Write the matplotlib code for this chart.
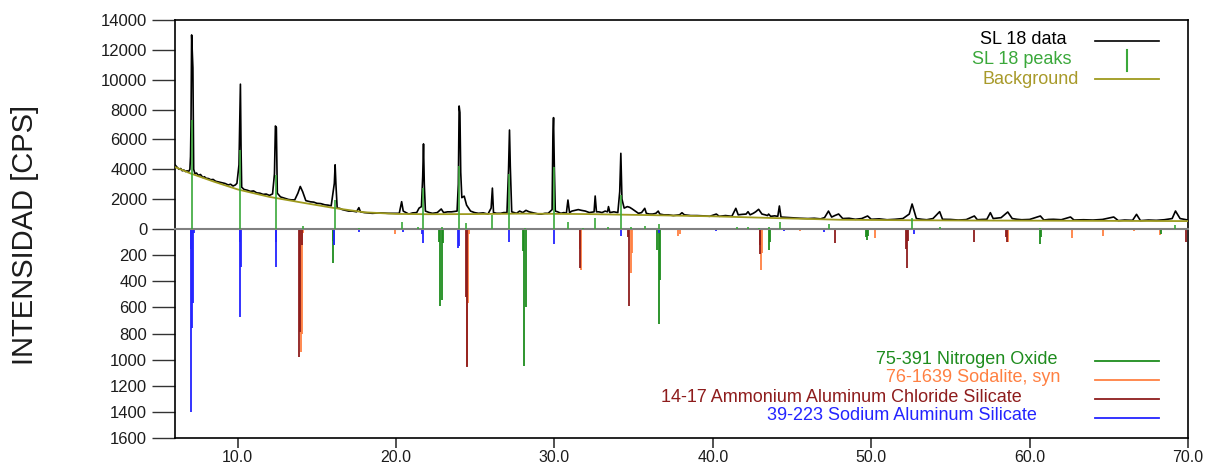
import matplotlib
matplotlib.use("Agg")
import matplotlib.pyplot as plt

plt.rcParams['font.family'] = ['Liberation Sans', 'DejaVu Sans']

# ---------------- data ----------------
# measured pattern "SL 18 data" (2theta, counts)
data_x = [6.04, 6.2, 6.3, 6.4, 6.5, 6.6, 6.7, 6.8, 6.9, 6.98, 7.02, 7.05, 7.09, 7.13, 7.17, 7.22, 7.3,
          7.4, 7.5, 7.65, 7.8, 7.9, 8.0, 8.15, 8.3, 8.45, 8.6, 8.8, 9.0, 9.2, 9.4, 9.55, 9.7, 9.85,
          9.95, 10.08, 10.12, 10.17, 10.21, 10.25, 10.4, 10.6, 10.8, 11.0,
          11.2, 11.4, 11.6, 11.8, 12.0, 12.2, 12.32, 12.38, 12.44, 12.5, 12.7, 12.85, 13.0, 13.2,
          13.4, 13.6, 13.8, 13.95, 14.1, 14.3, 14.6, 14.8, 15.0, 15.25, 15.5, 15.7, 15.9, 16.1,
          16.15, 16.2, 16.28, 16.45, 16.6, 16.8, 17.0, 17.25,
          17.5, 17.65, 17.75, 18.0, 18.5, 19.0, 19.5, 20.2, 20.35, 20.45, 20.8, 21.05, 21.3, 21.45,
          21.6, 21.68, 21.73, 21.78, 21.85, 22.1, 22.3, 22.6, 22.85, 23.0, 23.25, 23.5, 23.85,
          23.93, 23.98, 24.03, 24.08, 24.15, 24.3, 24.45, 24.7, 24.95, 25.2, 25.5, 25.8, 26.0,
          26.08, 26.15, 26.35, 26.6, 26.8, 27.0, 27.1, 27.16,
          27.21, 27.3, 27.6, 27.8, 28.0, 28.2, 28.4, 28.6, 28.8, 29.0, 29.2, 29.4, 29.6, 29.85,
          29.9, 29.94, 29.99, 30.05, 30.2, 30.4, 30.6, 30.75, 30.85, 30.95, 31.1, 31.3, 31.5,
          31.7, 31.95, 32.2, 32.5, 32.57, 32.65, 32.8, 33.0, 33.2, 33.35, 33.41,
          33.5, 33.75, 34.0, 34.12, 34.19, 34.26, 34.4, 34.6, 34.75, 34.9, 35.1, 35.3, 35.5,
          35.7, 35.8, 36.0, 36.2, 36.4, 36.55,
          36.65, 36.9, 37.2, 37.5, 37.9, 38.05, 38.2, 38.6, 39.0, 39.4, 39.8, 40.22, 40.4, 40.8,
          41.2, 41.45, 41.6, 41.85, 42.1,
          42.22, 42.35, 42.55, 42.7, 42.89, 43.1, 43.3, 43.45, 43.52, 43.65, 43.9, 44.1, 44.2,
          44.3, 44.6, 45.0, 45.5, 46.0, 46.4,
          46.8, 47.05, 47.3, 47.5, 47.7, 47.94, 48.2, 48.6, 49.0, 49.4, 49.77, 50.0, 50.5, 51.0,
          51.5, 52.0, 52.4, 52.58, 52.7,
          52.85, 53.2, 53.5, 53.9, 54.32, 54.5, 55.0, 55.5, 56.0, 56.51, 56.7, 57.0, 57.3, 57.52,
          57.7, 58.2, 58.62, 58.9, 59.2, 59.5, 60.0,
          60.68, 60.9, 61.2, 61.5, 62.0, 62.58, 62.8, 63.4, 64.0, 64.6, 65.31, 65.6, 66.0, 66.5,
          66.75, 67.0, 67.5, 68.0, 68.5, 69.0, 69.21, 69.5, 70.0]
data_y = [4300, 4100, 4000, 4050, 3900, 3950, 3850, 3900, 3850, 4000, 4850, 7000, 13000, 11900,
          10800, 4000, 3700, 3750, 3600, 3650, 3450, 3500, 3400, 3380, 3300, 3320, 3200, 3150,
          3100, 3050, 2950, 3000, 2880, 2950,
          3060, 4300, 6760, 9700, 5400, 2800, 2650, 2600, 2520, 2550,
          2420, 2400, 2320, 2340, 2250, 2350, 3700, 6900, 6800, 2400, 2150, 2100, 2050, 1980,
          1950, 1950, 2400, 2850, 2500, 1900, 1820, 1800, 1720, 1700, 1620, 1600, 1550, 3060,
          4300, 3000, 1400, 1380, 1300, 1250, 1200, 1200,
          1150, 1430, 1150, 1100, 1050, 1080, 1050, 1050, 1830, 1200, 1000, 1080, 1100, 1400,
          1500, 3500, 5700, 3000, 1200, 1100, 1050, 1100, 1340, 1100, 1150, 1150, 1200,
          3000, 8240, 7800, 3800, 2100, 2200, 1600, 1200, 1100, 1050, 1080, 1000, 1400,
          2740, 1100, 1050, 1050, 1100, 1100, 4000, 6630,
          4200, 1150, 1050, 1200, 1100, 1250, 1150, 1100, 1050, 1000, 1000, 1050, 1050, 1300,
          6200, 7460, 4200, 1200, 1150, 1050, 1100, 1050, 1940, 1100, 1200, 1250, 1300,
          1250, 1200, 1100, 1150, 2210, 1150, 1150, 1100, 1200, 1150, 1500,
          1100, 1150, 1100, 2500, 5070, 2000, 1400, 1500, 1450, 1350, 1200, 1050, 1100,
          1385, 1050, 1000, 1000, 1050, 1200,
          1000, 950, 950, 900, 950, 1090, 950, 900, 900, 880, 850, 1000, 850, 900,
          850, 1385, 950, 980, 1000,
          1160, 950, 1050, 1150, 1318, 1000, 950, 900, 1000, 850, 880, 850, 1541,
          800, 780, 750, 720, 700, 720,
          680, 760, 1200, 800, 900, 1005, 700, 720, 650, 700, 871, 650, 680, 620,
          650, 700, 1000, 1675, 1250,
          700, 650, 620, 700, 1162, 650, 640, 600, 630, 871, 620, 640, 650, 1094,
          700, 760, 1139, 700, 650, 620, 640,
          871, 600, 640, 650, 620, 804, 600, 620, 600, 640, 804, 560, 600, 580,
          983, 560, 600, 580, 620, 700, 1206, 700, 600]

# fitted background
bg_x = [6.04, 7.0, 8.5, 10.0, 12.0, 14.0, 16.0, 18.0, 20.0, 22.0, 25.0, 28.0, 32.0, 36.0,
        40.0, 44.0, 48.0, 52.0, 56.0, 60.0, 65.0, 70.0]
bg_y = [4150, 3730, 3170, 2650, 2150, 1780, 1420, 1120, 1010, 990, 1000, 1030, 1000, 930,
        850, 730, 620, 590, 570, 560, 545, 530]

# "SL 18 peaks" sticks
peak_x = [7.09, 10.17, 12.42, 14.1, 16.15, 17.68, 20.4, 21.37, 21.73, 22.9, 24.0, 24.42,
          26.08, 27.16, 28.15, 29.94, 30.85, 31.79, 32.57, 33.41, 34.19, 34.85, 35.73,
          36.57, 41.52, 42.22, 42.89, 43.52, 44.21, 47.31, 52.58, 54.32, 60.68, 69.21]
peak_h = [7300, 5300, 3600, 200, 1950, 100, 490, 150, 2750, 130, 4220, 400,
          940, 3700, 70, 4130, 490, 60, 715, 150, 2280, 150, 220,
          310, 150, 120, 80, 120, 490, 310, 715, 120, 100, 300]

# reference patterns (drawn downward)
no_x = [16.0, 16.04, 16.08, 22.68, 22.78, 22.88, 22.98, 28.0, 28.1, 28.2, 36.5, 36.57, 36.67,
        43.52, 43.6, 49.7, 49.73, 49.8, 60.68, 60.75, 68.3]
no_h = [92, 258, 120, 100, 590, 545, 110, 170, 1046, 600, 160, 727, 390,
        161, 100, 60, 85, 50, 115, 60, 40]

so_x = [13.98, 14.07, 14.12, 19.9, 24.5, 24.55, 24.62, 31.6, 31.68, 34.82, 34.9, 37.83, 37.9,
        43.05, 43.12, 45.52, 50.26, 58.65, 62.69, 64.64, 66.6, 68.25]
so_h = [940, 800, 30, 35, 1050, 570, 40, 150, 314, 339, 180, 56, 40,
        314, 180, 15, 69, 97, 69, 54, 15, 45]

am_x = [13.88, 13.95, 14.03, 24.42, 24.47, 31.58, 34.65, 34.72, 42.95, 43.0, 47.7, 52.22,
        52.26, 52.32, 56.51, 58.52, 58.58, 69.85]
am_h = [980, 790, 120, 518, 1054, 301, 60, 590, 194, 120, 110, 150,
        301, 90, 97, 60, 97, 97]

sa_x = [7.02, 7.08, 7.13, 7.17, 7.25, 10.12, 10.15, 10.19, 12.40, 12.44, 16.08, 17.68, 20.46,
        21.65, 21.69, 23.93, 23.98, 27.16, 29.98, 34.19, 36.57, 40.2, 44.5, 47.0, 52.7]
sa_h = [150, 1400, 760, 570, 30, 100, 671, 288, 100, 293, 125, 20, 25,
        40, 105, 145, 130, 97, 112, 51, 30, 15, 15, 20, 40]

top_ticks = [0, 2000, 4000, 6000, 8000, 10000, 12000, 14000]
bot_ticks = [200, 400, 600, 800, 1000, 1200, 1400, 1600]
x_ticks = [10, 20, 30, 40, 50, 60, 70]
x_ticklabels = ["10.0", "20.0", "30.0", "40.0", "50.0", "60.0", "70.0"]

top_legend = ["SL 18 data", "SL 18 peaks", "Background"]
ref_legend = ["75-391 Nitrogen Oxide", "76-1639 Sodalite, syn",
              "14-17 Ammonium Aluminum Chloride Silicate", "39-223 Sodium Aluminum Silicate"]

# ---------------- style ----------------
C_DATA = 'black'
C_PEAKS = '#3aa83a'
C_BG = '#9e9a1e'
C_NO = '#1e8c1e'
C_SO = '#ff8042'
C_AM = '#8e1c1c'
C_SA = '#2424ff'
C_TXT = '#1c1c1c'

W, H = 1209, 468
fig = plt.figure(figsize=(W / 100, H / 100), dpi=100)

def fx(px):
    return px / W

def fy(py):
    return 1 - py / H

left, right, top, mid, bot = 175, 1188, 20, 229, 438
ax_t = fig.add_axes([fx(left), fy(mid), fx(right) - fx(left), fy(top) - fy(mid)])
ax_b = fig.add_axes([fx(left), fy(bot), fx(right) - fx(left), fy(mid) - fy(bot)])

xlo, xhi = 6.04, 70.0

# top: measured data
ax_t.plot(data_x, data_y, color=C_DATA, lw=1.2, zorder=3)
ax_t.plot(bg_x, bg_y, color=C_BG, lw=1.3, zorder=4)
ax_t.vlines(peak_x, 0, peak_h, color=C_PEAKS, lw=1.2, zorder=5)
ax_t.set_xlim(xlo, xhi)
ax_t.set_ylim(0, 14000)
ax_t.set_yticks(top_ticks)
ax_t.set_yticklabels([str(v) for v in top_ticks])
ax_t.set_xticks([])

# bottom: reference sticks
ax_b.vlines(so_x, 0, so_h, color=C_SO, lw=1.3, zorder=3)
ax_b.vlines(am_x, 0, am_h, color=C_AM, lw=1.3, zorder=4)
ax_b.vlines(no_x, 0, no_h, color=C_NO, lw=1.3, zorder=3)
ax_b.vlines(sa_x, 0, sa_h, color=C_SA, lw=1.3, zorder=5)
ax_b.set_xlim(xlo, xhi)
ax_b.set_ylim(1600, 0)
ax_b.set_yticks(bot_ticks)
ax_b.set_yticklabels([str(v) for v in bot_ticks])
ax_b.set_xticks(x_ticks)
ax_b.set_xticklabels(x_ticklabels)

for ax in (ax_t, ax_b):
    for s in ax.spines.values():
        s.set_linewidth(1.2)
        s.set_color('black')
    ax.tick_params(axis='y', direction='out', length=16.5, width=1.0, pad=3.5,
                   labelsize=12, labelcolor=C_TXT, color='#333333')
    ax.tick_params(axis='x', direction='out', length=7.5, width=1.2, pad=1.5,
                   labelsize=11.5, labelcolor=C_TXT, color='#333333')

ax_t.spines['bottom'].set_color('#808080')
ax_t.spines['bottom'].set_linewidth(1.5)
ax_b.spines['top'].set_visible(False)
ax_t.yaxis.get_major_ticks()[0].tick1line.set_color('#808080')
ax_t.set_zorder(2)
ax_t.patch.set_alpha(0)

fig.text(fx(25), fy(235), "INTENSIDAD [CPS]", rotation=90, fontsize=21,
         ha='center', va='center', color=C_TXT)

# legend (top)
top_cols = [C_DATA, C_PEAKS, '#a89a2a']
top_txt_right = [1067, 1071, 1079]
top_y = [40, 59, 79]
for lab, col, xr, yy in zip(top_legend, top_cols, top_txt_right, top_y):
    fig.text(fx(xr), fy(yy), lab, color=col, fontsize=13, ha='right', va='center')
fig.add_artist(plt.Line2D([fx(1095), fx(1159)], [fy(41), fy(41)], color=C_DATA, lw=1.2,
                          transform=fig.transFigure))
fig.add_artist(plt.Line2D([fx(1127), fx(1127)], [fy(50), fy(71)], color=C_PEAKS, lw=1.5,
                          transform=fig.transFigure))
fig.add_artist(plt.Line2D([fx(1095), fx(1159)], [fy(79), fy(79)], color=C_BG, lw=1.3,
                          transform=fig.transFigure))

# legend (references)
ref_cols = [C_NO, C_SO, C_AM, C_SA]
ref_txt_right = [1058, 1060, 1022, 1037]
ref_txt_y = [359, 378, 397, 416]
ref_line_y = [361, 380, 399, 418]
for lab, col, xr, ty, ly in zip(ref_legend, ref_cols, ref_txt_right, ref_txt_y, ref_line_y):
    fig.text(fx(xr), fy(ty), lab, color=col, fontsize=13, ha='right', va='center')
    fig.add_artist(plt.Line2D([fx(1095), fx(1159)], [fy(ly), fy(ly)], color=col, lw=1.3,
                              transform=fig.transFigure))

fig.savefig("out.png", dpi=100)
